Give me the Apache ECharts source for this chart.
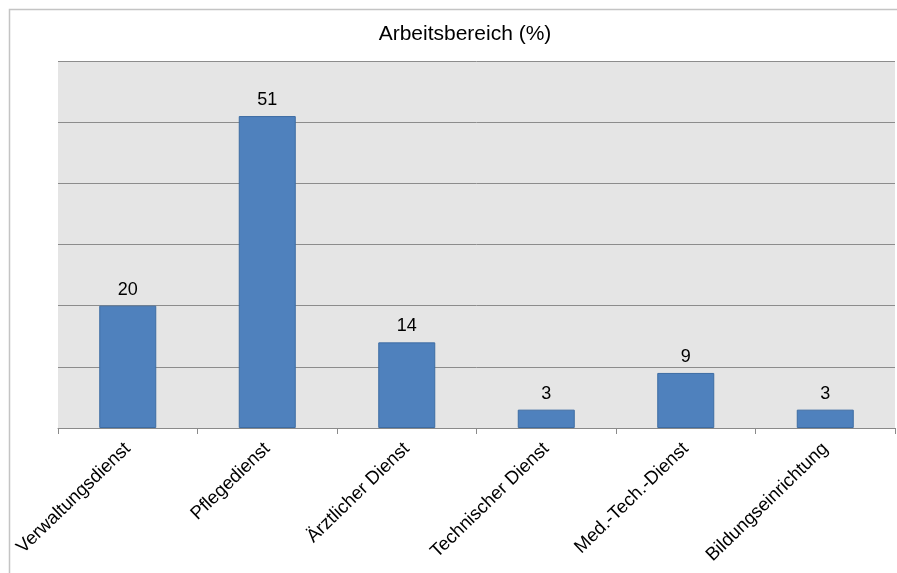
<!DOCTYPE html>
<html><head><meta charset="utf-8">
<script src="https://cdn.jsdelivr.net/npm/echarts@6/dist/echarts.min.js"></script>
<style>html,body{margin:0;padding:0;background:#fff}#c{width:897px;height:573px}</style>
</head><body><div id="c"></div>
<script>
const categories = ['Verwaltungsdienst','Pflegedienst','Ärztlicher Dienst','Technischer Dienst','Med.-Tech.-Dienst','Bildungseinrichtung'];
const values = [20, 51, 14, 3, 9, 3];
const chartTitle = 'Arbeitsbereich (%)';

const chart = echarts.init(document.getElementById('c'), null, {renderer:'canvas'});
chart.setOption({
  animation:false,
  backgroundColor:'#ffffff',
  title:{text:chartTitle,left:460,top:19,textAlign:'center',
    textStyle:{fontFamily:'Liberation Sans, Arial, sans-serif',fontSize:21,fontWeight:'normal',color:'#000'}},
  graphic:[{type:'rect',shape:{x:9.5,y:9.5,width:900,height:600},
    style:{fill:null,stroke:'#c4c4c4',lineWidth:1.5},silent:true,z:-1}],
  grid:{left:58,top:61,right:2,bottom:145,show:true,backgroundColor:'#e5e5e5',borderWidth:0},
  xAxis:{type:'category',data:categories,
    axisLine:{lineStyle:{color:'#8a8a8a',width:1}},
    axisTick:{show:true,length:6,alignWithLabel:false,lineStyle:{color:'#8a8a8a'}},
    axisLabel:{rotate:44,interval:0,margin:18,fontFamily:'Liberation Sans, Arial, sans-serif',fontSize:18.5,color:'#000'}},
  yAxis:{type:'value',min:0,max:60,interval:10,
    axisLabel:{show:false},axisLine:{show:false},axisTick:{show:false},
    splitLine:{lineStyle:{color:'#8c8c8c',width:1}}},
  series:[{type:'bar',data:values,barWidth:57,
    itemStyle:{color:'#4f81bd',borderColor:'#3d6ca3',borderWidth:1},
    label:{show:true,position:'top',distance:7,fontFamily:'Liberation Sans, Arial, sans-serif',fontSize:18,color:'#000'}}]
});
</script></body></html>
